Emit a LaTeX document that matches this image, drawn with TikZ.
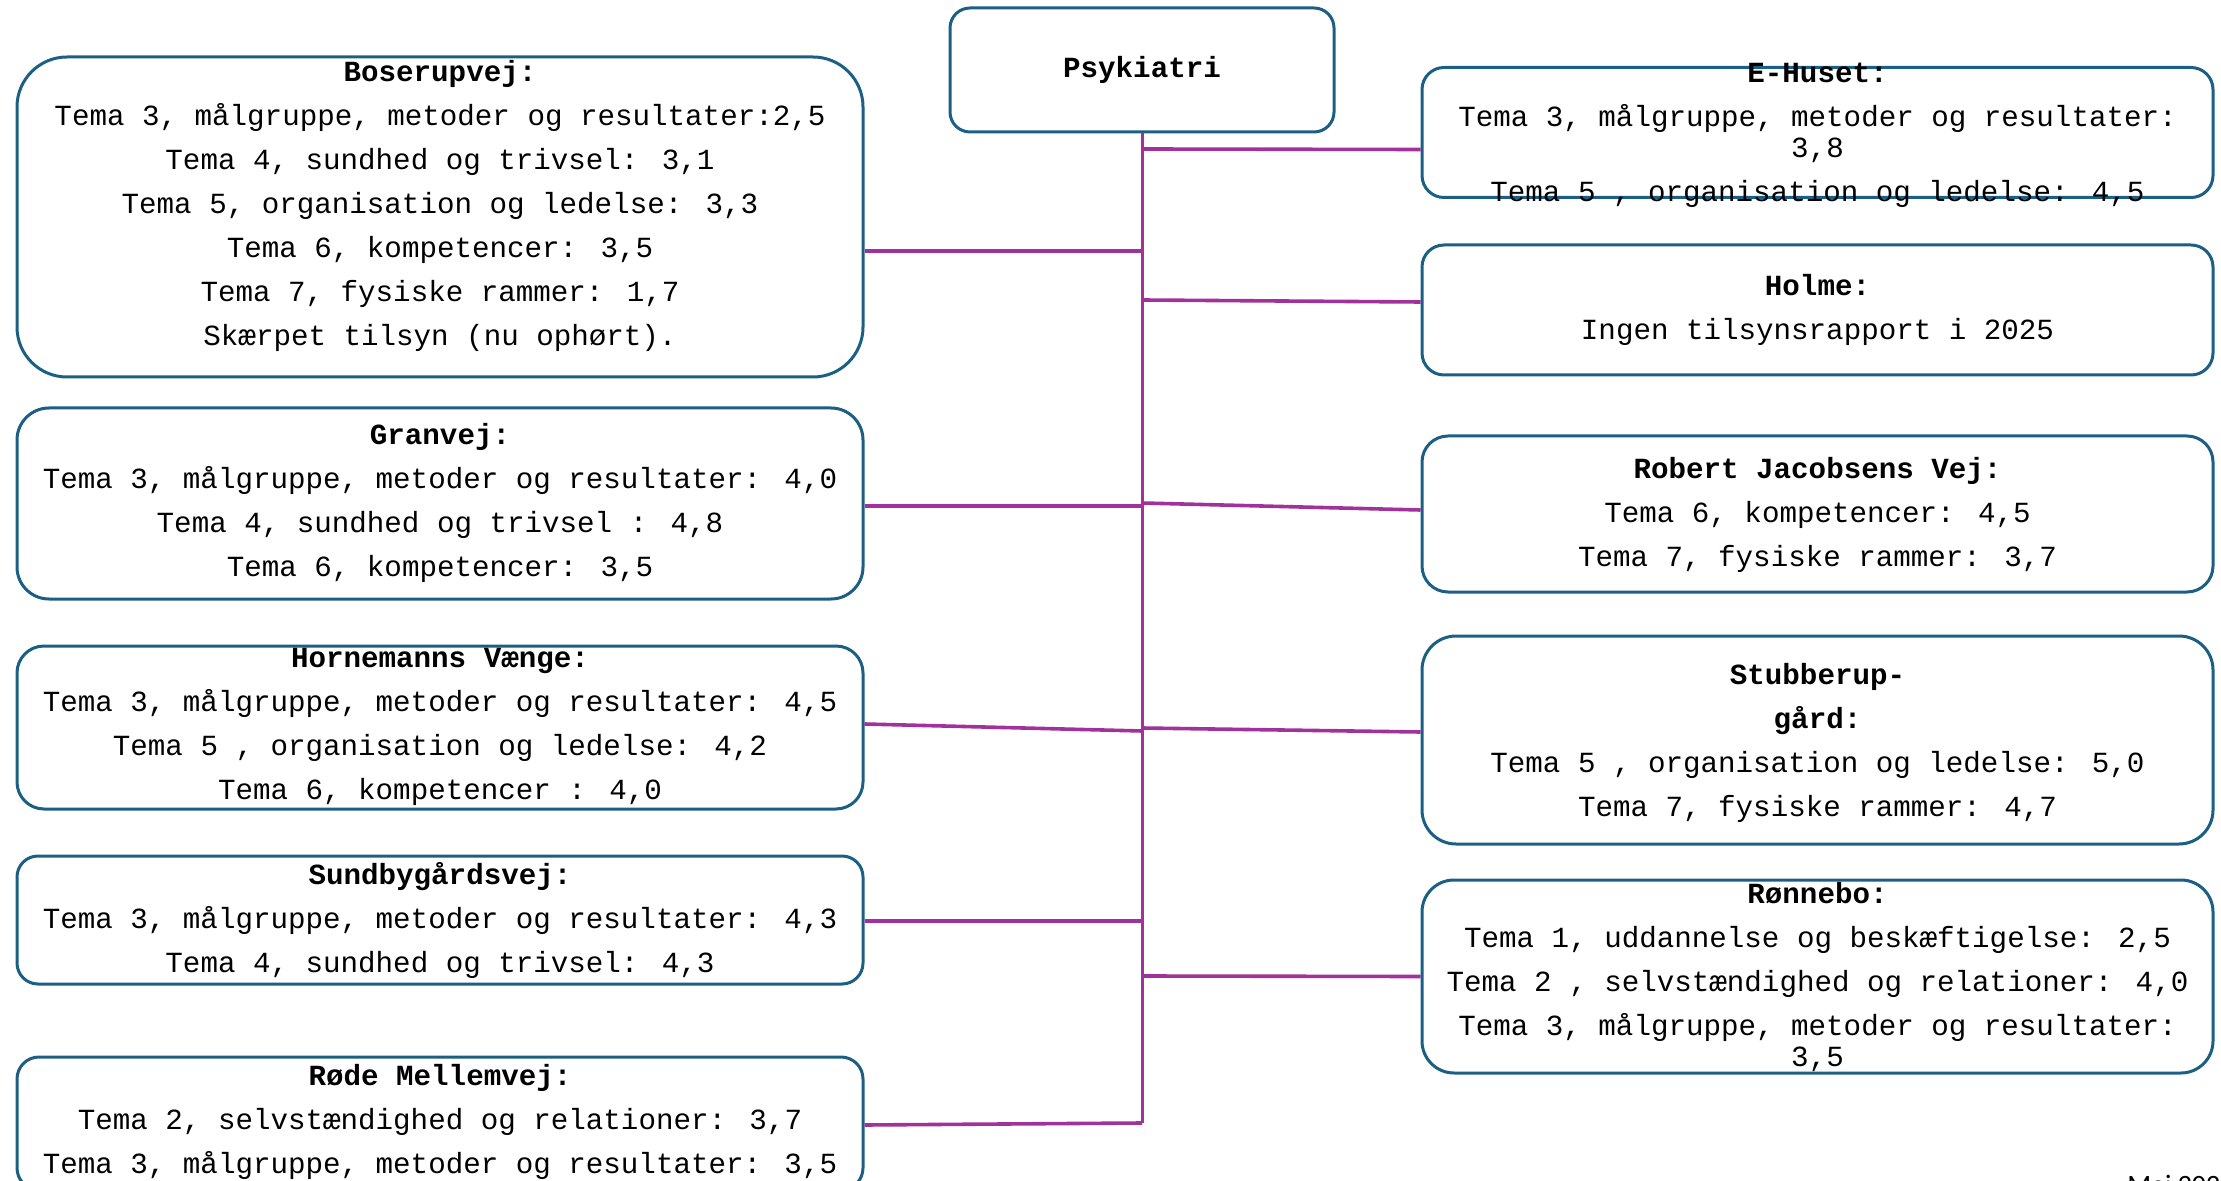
\documentclass[tikz,border=0pt]{standalone}
\usepackage{fontspec}
\usepackage{tikz}
\newfontfamily\boksfont{Liberation Mono}
\newfontfamily\fodfont{Carlito}
\definecolor{boksblaa}{RGB}{27,96,132}
\definecolor{lilla}{RGB}{162,50,155}

\begin{document}
\begin{tikzpicture}[x=0.5pt,y=-0.5pt,
  boks/.style={draw=boksblaa, line width=1.5pt, fill=white, inner sep=0pt},
  venstre/.style={boks, minimum width=423pt},
  hoejre/.style={boks, minimum width=395.5pt},
  tekst/.style={align=center, inner sep=0pt, font=\boksfont\fontsize{14.6}{15.5}\selectfont},
  forbind/.style={draw=lilla, line width=1.8pt},
  stamme/.style={draw=lilla, line width=1.5pt}]
\useasboundingbox (0,0) rectangle (2221,1181);

\node[boks, tekst, minimum width=192pt, minimum height=62pt, rounded corners=10pt] (psyk) at (1142,70) {\textbf{Psykiatri}};

% venstre side
\node[venstre, minimum height=160pt, rounded corners=25pt] (boserup) at (440,217) {};
\node[tekst] (boserupT) at (440,206) {\textbf{Boserupvej:}\\[6.5pt]
  Tema 3, målgruppe, metoder og resultater:2,5\\[6.5pt]
  Tema 4, sundhed og trivsel: 3,1\\[6.5pt]
  Tema 5, organisation og ledelse: 3,3\\[6.5pt]
  Tema 6, kompetencer: 3,5\\[6.5pt]
  Tema 7, fysiske rammer: 1,7\\[6.5pt]
  Skærpet tilsyn (nu ophørt).};

\node[venstre, minimum height=95.5pt, rounded corners=16pt] (granvej) at (440,503.5) {};
\node[tekst] (granvejT) at (440,503) {\textbf{Granvej:}\\[6.5pt]
  Tema 3, målgruppe, metoder og resultater: 4,0\\[6.5pt]
  Tema 4, sundhed og trivsel : 4,8\\[6.5pt]
  Tema 6, kompetencer: 3,5};

\node[venstre, minimum height=81.5pt, rounded corners=13.5pt] (horn) at (440,727.5) {};
\node[tekst] (hornT) at (440,727) {\textbf{Hornemanns Vænge:}\\[6.5pt]
  Tema 3, målgruppe, metoder og resultater: 4,5\\[6.5pt]
  Tema 5 , organisation og ledelse: 4,2\\[6.5pt]
  Tema 6, kompetencer : 4,0};

\node[venstre, minimum height=64pt, rounded corners=10.5pt] (sundby) at (440,920) {};
\node[tekst] (sundbyT) at (440,920) {\textbf{Sundbygårdsvej:}\\[6.5pt]
  Tema 3, målgruppe, metoder og resultater: 4,3\\[6.5pt]
  Tema 4, sundhed og trivsel: 4,3};

\node[venstre, minimum height=66.5pt, rounded corners=11pt] (rode) at (440,1123.5) {};
\node[tekst] (rodeT) at (440,1122) {\textbf{Røde Mellemvej:}\\[6.5pt]
  Tema 2, selvstændighed og relationer: 3,7\\[6.5pt]
  Tema 3, målgruppe, metoder og resultater: 3,5};

% hoejre side
\node[hoejre, minimum height=65pt, rounded corners=11pt] (ehus) at (1817.5,132.5) {};
\node[tekst] (ehusT) at (1817.5,135) {\textbf{E-Huset:}\\[6.5pt]
  Tema 3, målgruppe, metoder og resultater:\\ 3,8\\[6.5pt]
  Tema 5 , organisation og ledelse: 4,5};

\node[hoejre, minimum height=65pt, rounded corners=11pt] (holme) at (1817.5,310) {};
\node[tekst] (holmeT) at (1817.5,310) {\textbf{Holme:}\\[6.5pt]
  Ingen tilsynsrapport i 2025};

\node[hoejre, minimum height=78pt, rounded corners=13pt] (robert) at (1817.5,514) {};
\node[tekst] (robertT) at (1817.5,515) {\textbf{Robert Jacobsens Vej:}\\[6.5pt]
  Tema 6, kompetencer: 4,5\\[6.5pt]
  Tema 7, fysiske rammer: 3,7};

\node[hoejre, minimum height=104pt, rounded corners=17pt] (stubber) at (1817.5,740) {};
\node[tekst] (stubberT) at (1817.5,743) {\textbf{Stubberup-}\\[6.5pt]
  \textbf{gård:}\\[6.5pt]
  Tema 5 , organisation og ledelse: 5,0\\[6.5pt]
  Tema 7, fysiske rammer: 4,7};

\node[hoejre, minimum height=96.5pt, rounded corners=16pt] (ronnebo) at (1817.5,976.5) {};
\node[tekst] (ronneboT) at (1817.5,977) {\textbf{Rønnebo:}\\[6.5pt]
  Tema 1, uddannelse og beskæftigelse: 2,5\\[6.5pt]
  Tema 2 , selvstændighed og relationer: 4,0\\[6.5pt]
  Tema 3, målgruppe, metoder og resultater:\\ 3,5};

% stamme
\coordinate (bund) at (1142,1123);
\coordinate (s1) at (1142,149);
\coordinate (s2) at (1142,251);
\coordinate (s3) at (1142,300);
\coordinate (s4) at (1142,503);
\coordinate (s5) at (1142,506);
\coordinate (s6) at (1142,728);
\coordinate (s7) at (1142,731);
\coordinate (s8) at (1142,921);
\coordinate (s9) at (1142,976);
\draw[stamme] (psyk.south) -- (bund);

\draw[forbind] ([yshift=-17pt]boserup.east) -- (s2);
\draw[forbind] ([yshift=-1.25pt]granvej.east) -- (s5);
\draw[forbind] ([yshift=1.75pt]horn.east) -- (s7);
\draw[forbind] ([yshift=-0.5pt]sundby.east) -- (s8);
\draw[forbind] ([yshift=-0.75pt]rode.east) -- (bund);

\draw[forbind] (s1) -- ([yshift=-8.5pt]ehus.west);
\draw[forbind] (s3) -- ([yshift=4pt]holme.west);
\draw[forbind] (s4) -- ([yshift=2pt]robert.west);
\draw[forbind] (s6) -- ([yshift=4pt]stubber.west);
\draw[forbind] (s9) -- (ronnebo.west);

\node[anchor=north west, inner sep=0pt, font=\fodfont\fontsize{14}{16}\selectfont] (fod) at (2127,1175) {Maj 2025};
\end{tikzpicture}
\end{document}
